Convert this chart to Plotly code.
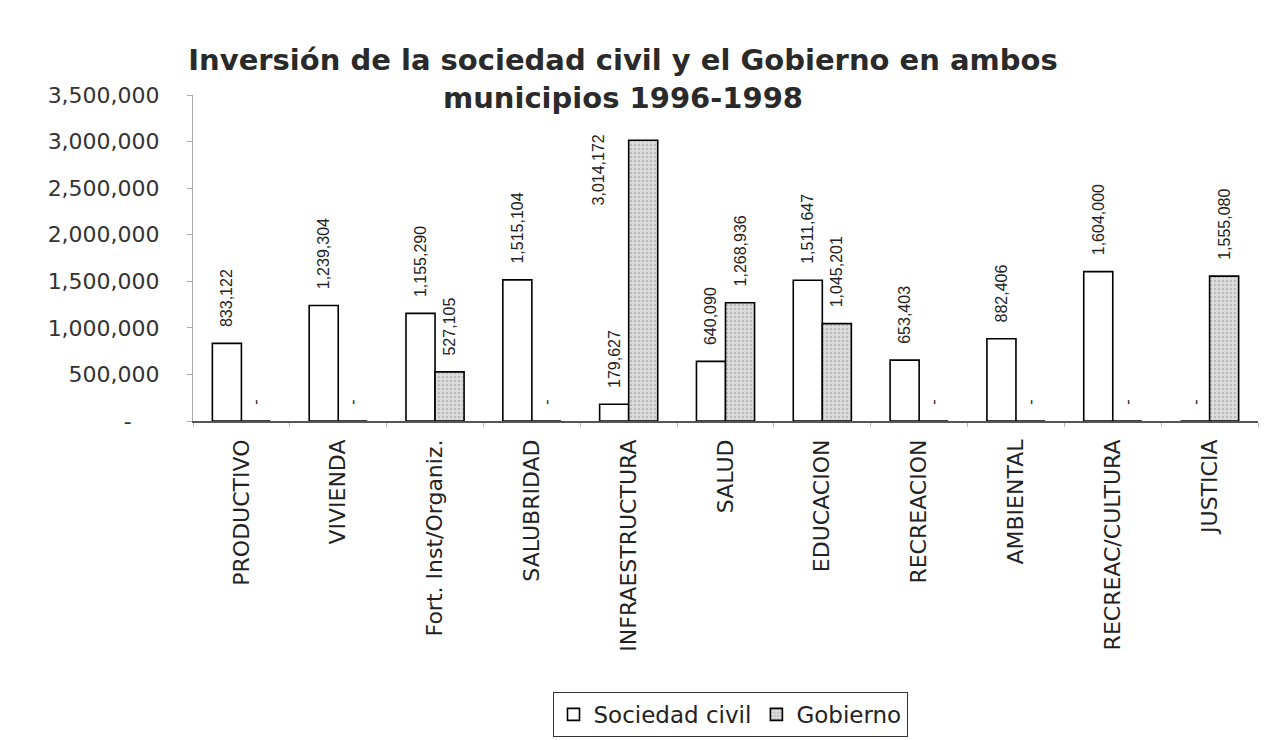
import plotly.graph_objects as go

categories = ["PRODUCTIVO", "VIVIENDA", "Fort. Inst/Organiz.", "SALUBRIDAD", "INFRAESTRUCTURA",
              "SALUD", "EDUCACION", "RECREACION", "AMBIENTAL", "RECREAC/CULTURA", "JUSTICIA"]
sociedad = [833122, 1239304, 1155290, 1515104, 179627, 640090, 1511647, 653403, 882406, 1604000, 0]
gobierno = [0, 0, 527105, 0, 3014172, 1268936, 1045201, 0, 0, 0, 1555080]
yticks = [0, 500000, 1000000, 1500000, 2000000, 2500000, 3000000, 3500000]

PAD = "\u00a0\u00a0\u00a0"
YMAX = 3500000

def fmt(v):
    return "-" if v == 0 else f"{v:,}"

label_font = dict(family="Liberation Sans Narrow, Liberation Sans, Arial Narrow", size=16, color="#222")

# labels that would not fit above the plot are placed beside their bar (as in the original)
gob_text = [PAD + fmt(v) if v < 0.85 * YMAX else "" for v in gobierno]

fig = go.Figure()
fig.add_trace(go.Bar(
    name="Sociedad civil", x=categories, y=sociedad,
    marker=dict(color="white", line=dict(color="black", width=1.6)),
    text=[PAD + fmt(v) for v in sociedad], textposition="outside", textangle=-90,
    constraintext="none", textfont=label_font, cliponaxis=False,
))
fig.add_trace(go.Bar(
    name="Gobierno", x=categories, y=gobierno,
    marker=dict(color="#d4d4d4", line=dict(color="black", width=1.6),
                pattern=dict(shape=".", fgcolor="#999999", bgcolor="#dcdcdc", size=4, solidity=0.3)),
    text=gob_text, textposition="outside", textangle=-90,
    constraintext="none", textfont=label_font, cliponaxis=False,
))

for c, v in zip(categories, gobierno):
    if v >= 0.85 * YMAX:
        fig.add_annotation(x=c, y=v, xref="x", yref="y", text=fmt(v), textangle=-90,
                           showarrow=False, xshift=-30, yshift=8, yanchor="top",
                           font=label_font)

fig.update_layout(
    width=1282, height=740,
    paper_bgcolor="white", plot_bgcolor="white",
    margin=dict(l=185, r=32, t=87, b=322),
    barmode="group", bargap=0.4, bargroupgap=0,
    title=dict(text="<b>Inversión de la sociedad civil y el Gobierno en ambos<br>municipios 1996-1998</b>",
               x=615/1282, xanchor="center", y=1-62/740, yanchor="top",
               font=dict(family="DejaVu Sans", size=29, color="#2a2a2a")),
    showlegend=True,
    legend=dict(orientation="h", x=(722-185)/1065, xanchor="center", y=-0.9, yanchor="middle",
                bordercolor="#333", borderwidth=1, bgcolor="white",
                font=dict(family="DejaVu Sans", size=23, color="#222"),
                traceorder="normal", itemwidth=30),
)
fig.update_yaxes(range=[0, YMAX], tickvals=yticks,
                 ticktext=[("-\u00a0\u00a0\u00a0\u00a0" if v == 0 else fmt(v)) for v in yticks],
                 showgrid=False, zeroline=False, showline=True, linecolor="#aaa", linewidth=1,
                 ticks="outside", ticklen=5, tickcolor="#aaa", ticklabelstandoff=23,
                 tickfont=dict(family="DejaVu Sans", size=22, color="#333"))
fig.update_xaxes(showgrid=False, showline=True, linecolor="#555", linewidth=1.5,
                 ticks="outside", ticklen=4, tickcolor="#bbb", tickson="boundaries",
                 tickangle=-90, ticklabelstandoff=8,
                 tickfont=dict(family="DejaVu Sans", size=22, color="#222"))

fig.write_html("out.html")
